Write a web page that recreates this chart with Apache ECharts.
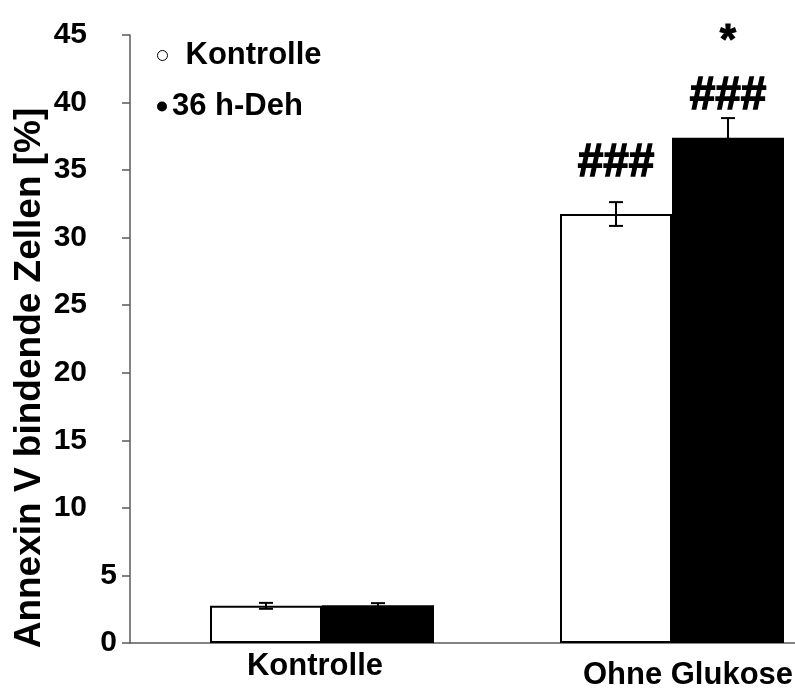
<!DOCTYPE html>
<html>
<head>
<meta charset="utf-8">
<script src="https://cdn.jsdelivr.net/npm/echarts@6/dist/echarts.min.js"></script>
<style>
  html, body { margin: 0; padding: 0; background: #fff; }
  #chart { width: 795px; height: 689px; }
</style>
</head>
<body>
<div id="chart"></div>
<script>
// Annexin V binding cells (%) per condition, mean and error
const categories = ['Kontrolle', 'Ohne Glukose'];
const seriesNames = ['Kontrolle', '36 h-Deh'];
const kontrolleMean = [2.75, 31.75];
const kontrolleErr = [0.22, 0.88];
const dehMean = [2.8, 37.4];
const dehErr = [0.15, 1.45];
// significance marks drawn above the bars
const kontrolleMarks = ['', '###'];
const dehStars = ['', '*'];
const dehHashes = ['', '###'];
const yMin = 0, yMax = 45, yStep = 5;
const yAxisTitle = 'Annexin V bindende Zellen [%]';

const FONT = 'Liberation Sans, Arial, Helvetica, sans-serif';
const BAR_W = 112;
const AXIS_GREY = '#5a5a5a';

const chart = echarts.init(document.getElementById('chart'), null, { renderer: 'canvas' });

const xPos = categories.map((c, i) => i + 1);

function markLabel(text, star, distance) {
  if (!text) return { show: false };
  return {
    show: true,
    position: 'top',
    distance: distance,
    formatter: star ? '{s|' + star + '}\n{h|' + text + '}' : '{h|' + text + '}',
    rich: {
      h: { fontFamily: FONT, fontWeight: 'bold', fontSize: 46, lineHeight: 46, color: '#000',
           textBorderColor: '#000', textBorderWidth: 1.4 },
      s: { fontFamily: FONT, fontWeight: 'bold', fontSize: 42, lineHeight: 64, color: '#000',
           textBorderColor: '#000', textBorderWidth: 1 }
    }
  };
}

const kontrolleData = xPos.map((x, i) => ({
  value: [x, kontrolleMean[i]],
  label: markLabel(kontrolleMarks[i], '', 28)
}));
const dehData = xPos.map((x, i) => ({
  value: [x, dehMean[i]],
  label: markLabel(dehHashes[i], dehStars[i], 18)
}));

// error bars: [x, mean, err, side] where side puts the whisker on the left or right bar
const errData = [];
xPos.forEach((x, i) => {
  errData.push([x, kontrolleMean[i], kontrolleErr[i], -1]);
  errData.push([x, dehMean[i], dehErr[i], 1]);
});

function renderErr(params, api) {
  const x = api.value(0), m = api.value(1), e = api.value(2), side = api.value(3);
  const top = api.coord([x, m + e]);
  const bot = api.coord([x, m - e]);
  const cx = top[0] + side * BAR_W / 2;
  const cap = 7;
  const style = { stroke: '#000', lineWidth: 2 };
  return {
    type: 'group',
    children: [
      { type: 'line', shape: { x1: cx, y1: top[1], x2: cx, y2: bot[1] }, style },
      { type: 'line', shape: { x1: cx - cap, y1: top[1], x2: cx + cap, y2: top[1] }, style },
      { type: 'line', shape: { x1: cx - cap, y1: bot[1], x2: cx + cap, y2: bot[1] }, style }
    ]
  };
}

const option = {
  backgroundColor: '#fff',
  animation: false,
  grid: { left: 130, right: 0, top: 35, bottom: 46, outerBoundsMode: 'none' },
  legend: [
    {
      data: [{ name: seriesNames[0], icon: 'circle',
               itemStyle: { color: '#fff', borderColor: '#000', borderWidth: 1 } }],
      left: 157, top: 40, padding: 0, itemWidth: 10, itemHeight: 10,
      selectedMode: false,
      textStyle: { fontFamily: FONT, fontWeight: 'bold', fontSize: 31, color: '#000', padding: [0, 0, 0, 13] }
    },
    {
      data: [{ name: seriesNames[1], icon: 'circle', itemStyle: { color: '#000' } }],
      left: 157, top: 91, padding: 0, itemWidth: 10, itemHeight: 10,
      selectedMode: false,
      textStyle: { fontFamily: FONT, fontWeight: 'bold', fontSize: 31, color: '#000' }
    }
  ],
  xAxis: {
    type: 'value',
    min: 1 - 192 / 350,
    max: 1 - 192 / 350 + 665 / 350,
    axisLine: { show: true, lineStyle: { color: AXIS_GREY, width: 1.5 } },
    axisTick: { show: false },
    splitLine: { show: false },
    axisLabel: {
      customValues: xPos,
      margin: 8,
      formatter: function (v) {
        const i = Math.round(v) - 1;
        return i === 0 ? '{a|' + categories[0] + '}' : '{b|' + categories[1] + '}';
      },
      rich: {
        a: { fontFamily: FONT, fontWeight: 'bold', fontSize: 31, color: '#000', padding: [0, 14, 0, 0] },
        b: { fontFamily: FONT, fontWeight: 'bold', fontSize: 31, color: '#000', padding: [9, 0, 0, 32] }
      }
    }
  },
  yAxis: {
    type: 'value',
    min: yMin, max: yMax, interval: yStep,
    axisLine: { show: true, lineStyle: { color: AXIS_GREY, width: 1.5 } },
    axisTick: { show: true, inside: false, length: 8, lineStyle: { color: AXIS_GREY, width: 1.5 } },
    splitLine: { show: false },
    axisLabel: {
      margin: 13,
      formatter: function (v) {
        return v >= 10 ? '{w|' + v + '}' : '{n|' + v + '}';
      },
      rich: {
        w: { fontFamily: FONT, fontWeight: 'bold', fontSize: 30, color: '#000', padding: [0, 30, 0, 0] },
        n: { fontFamily: FONT, fontWeight: 'bold', fontSize: 30, color: '#000' }
      }
    }
  },
  graphic: [
    {
      type: 'text',
      x: 30, y: 378,
      rotation: Math.PI / 2,
      style: {
        text: yAxisTitle,
        font: 'bold 37px ' + FONT,
        fill: '#000',
        textAlign: 'center',
        textVerticalAlign: 'middle'
      }
    }
  ],
  series: [
    {
      name: seriesNames[0],
      type: 'bar',
      barWidth: BAR_W,
      barGap: '0%',
      itemStyle: { color: '#fff', borderColor: '#000', borderWidth: 2 },
      data: kontrolleData
    },
    {
      name: seriesNames[1],
      type: 'bar',
      barWidth: BAR_W,
      barGap: '0%',
      itemStyle: { color: '#000' },
      data: dehData
    },
    {
      type: 'custom',
      renderItem: renderErr,
      data: errData,
      z: 5,
      silent: true
    }
  ]
};

chart.setOption(option);
</script>
</body>
</html>
